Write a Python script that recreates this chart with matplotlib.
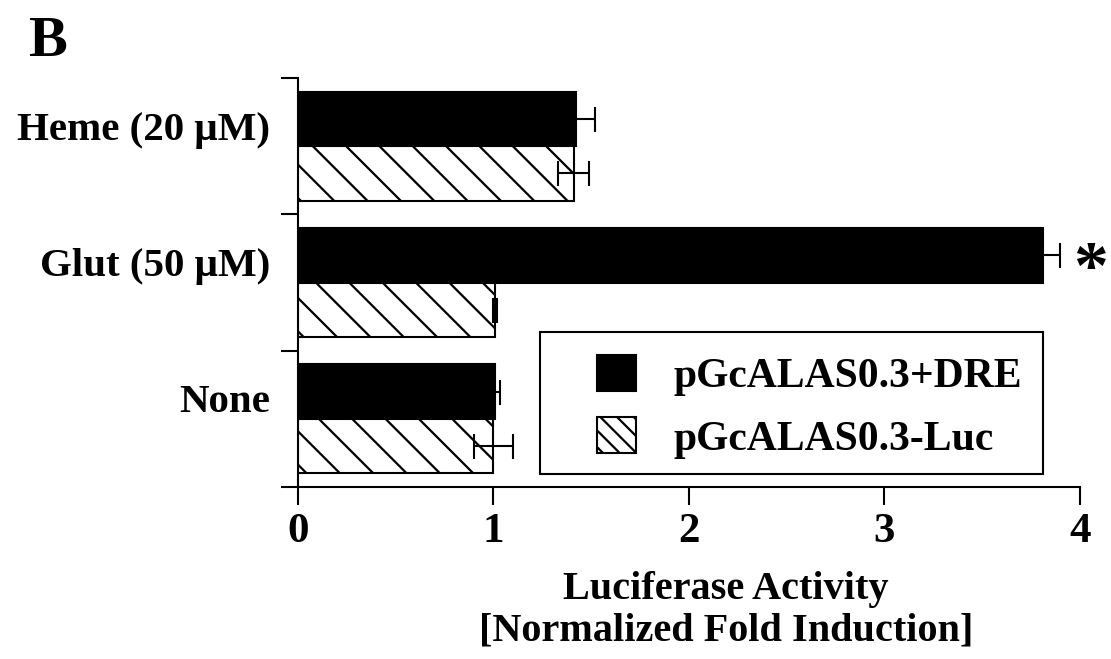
import numpy as np
import matplotlib
matplotlib.use("Agg")
import matplotlib.pyplot as plt
from matplotlib.patches import Patch, Rectangle

plt.rcParams['font.family'] = ['Liberation Serif', 'DejaVu Serif']
plt.rcParams['font.weight'] = 'bold'
plt.rcParams['axes.labelweight'] = 'bold'
plt.rcParams['hatch.linewidth'] = 1.6

treatments = ["None", "Glut (50 \u03bcM)", "Heme (20 \u03bcM)"]
dre_vals = [1.01, 3.81, 1.42]
dre_err = [0.025, 0.09, 0.10]
luc_vals = [1.00, 1.01, 1.41]
luc_err = [0.10, 0.01, 0.08]
series_names = ["pGcALAS0.3+DRE", "pGcALAS0.3-Luc"]
x_ticks = [0, 1, 2, 3, 4]

fig = plt.figure(figsize=(11.11, 6.59), dpi=100)
ax = fig.add_axes([0.2682, 0.261, 0.7039, 0.6206])

y = np.arange(len(treatments))
h = 0.4
err_kw = dict(ecolor='black', elinewidth=1.5, capsize=9, capthick=1.5)

ax.barh(y + h / 2, dre_vals, height=h, color='black', edgecolor='black',
        linewidth=1.5, xerr=dre_err, error_kw=err_kw)
ax.barh(y - h / 2, luc_vals, height=h, color='white', edgecolor='black',
        linewidth=1.5, hatch='\\', xerr=luc_err, error_kw=err_kw)

# significance marker next to the glutamate bar
ax.text(dre_vals[1] + dre_err[1] + 0.155, 1 + h / 2 - 0.12, "*", fontsize=50,
        ha='center', va='center', fontweight='bold')

ax.set_xlim(0, 4)
ax.set_ylim(-0.5, 2.5)
ax.set_xticks(x_ticks)
ax.set_xticklabels([str(t) for t in x_ticks], fontsize=31)
ax.tick_params(axis='x', direction='out', length=13, width=1.5, pad=6)

ax.set_yticks(y + 0.15)
ax.set_yticklabels(treatments, fontsize=29.5)
ax.tick_params(axis='y', which='major', length=0, pad=20)
ax.set_yticks(np.arange(-0.5, 3, 1), minor=True)
ax.tick_params(axis='y', which='minor', direction='out', length=12, width=1.5)

for side in ['top', 'right']:
    ax.spines[side].set_visible(False)
for side in ['left', 'bottom']:
    ax.spines[side].set_linewidth(1.5)

ax.set_xlabel("Luciferase Activity\n[Normalized Fold Induction]",
              fontsize=29, linespacing=1.15, labelpad=14)
ax.xaxis.label.set_x(0.547)

# legend box drawn separately so the left margin can be wider
fig.patches.append(Rectangle((0.486, 0.2807), 0.4527, 0.2155,
                             transform=fig.transFigure, facecolor='white',
                             edgecolor='black', linewidth=1.5, zorder=3))
handles = [Patch(facecolor='black', edgecolor='black', linewidth=1.5),
           Patch(facecolor='white', edgecolor='black', linewidth=1.5, hatch='\\\\')]
leg = fig.legend(handles, series_names, loc='upper left',
                 bbox_to_anchor=(0.537, 0.461), fontsize=30, frameon=False,
                 handlelength=0.95, handleheight=0.95, handletextpad=0.9,
                 borderpad=0, borderaxespad=0, labelspacing=0.5)
leg.set_zorder(4)

fig.text(0.025, 0.937, "B", fontsize=42, fontweight='bold', va='center')

fig.savefig("out.png", dpi=100)
